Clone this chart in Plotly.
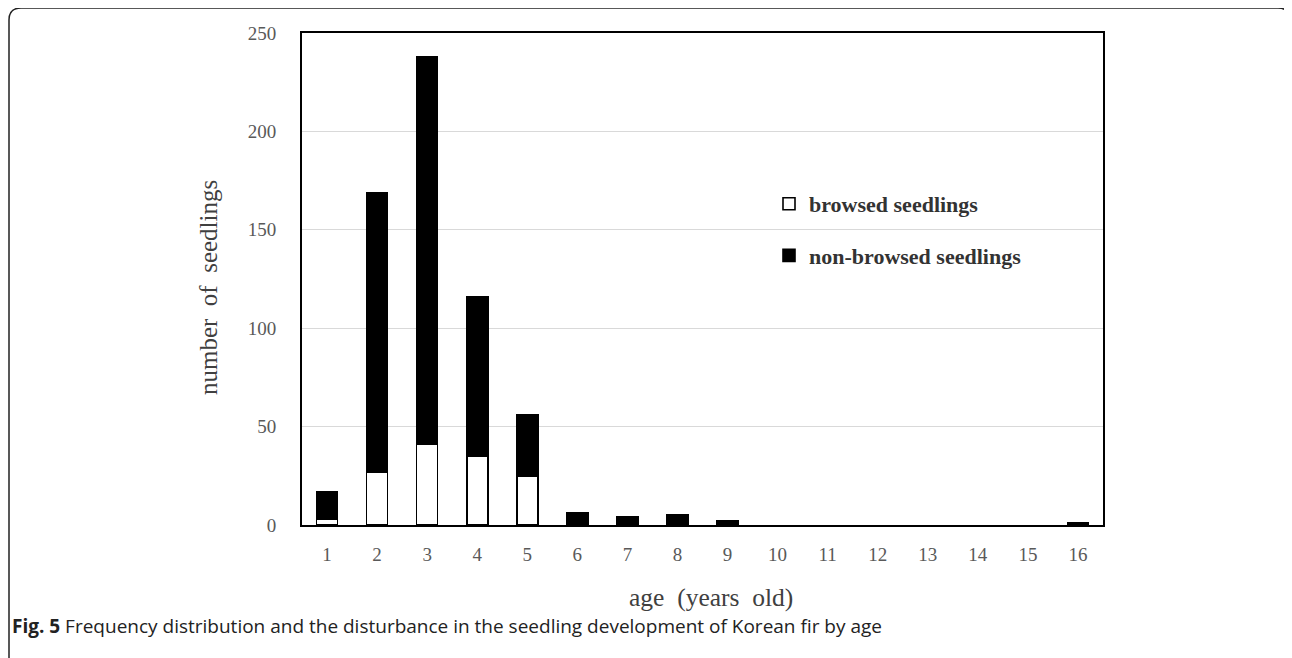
import plotly.graph_objects as go

ages = [str(a) for a in range(1, 17)]
browsed = [3, 27, 41, 35, 25, 0, 0, 0, 0, 0, 0, 0, 0, 0, 0, 0]
non_browsed = [14, 142, 197, 81, 31, 6, 4, 5, 2, 0, 0, 0, 0, 0, 0, 1]
y_ticks = [0, 50, 100, 150, 200, 250]

serif = "Liberation Serif, Times New Roman, serif"
grey = "#595959"

# plot area in figure pixels (the page adds an 8px body margin)
L, T, W, H = 294, 25, 801, 492
OFF = 8


def px(x):
    return (x - OFF - L) / W


def py(y):
    return (T + H - (y - OFF)) / H


def hide_zero(vals):
    return [v if v else None for v in vals]


fig = go.Figure()
fig.add_trace(go.Bar(
    x=ages, y=hide_zero(browsed), name="browsed seedlings", legendgroup="a",
    marker=dict(color="white", line=dict(color="black", width=1.6)),
    width=0.42
))
fig.add_trace(go.Bar(
    x=ages, y=hide_zero(non_browsed), name="non-browsed seedlings", legendgroup="b",
    marker=dict(color="black", line=dict(color="black", width=1.6)),
    width=0.42
))

frame = "M {x0} {yb} L {x0} {y1} Q {x0} {yt} {x2} {yt} L {x3} {yt} Q {xr} {yt} {xr} {y1} L {xr} {yb}".format(
    x0=px(9), x2=px(21), x3=px(1278), xr=px(1290),
    yt=py(8), y1=py(20), yb=py(672)
)

fig.update_layout(
    barmode="stack",
    width=1292, height=658,
    margin=dict(l=L, r=1292 - L - W, t=T, b=658 - T - H),
    paper_bgcolor="white", plot_bgcolor="white",
    font=dict(family=serif, color=grey),
    legend=dict(
        x=px(769), y=py(183), xanchor="left", yanchor="top",
        bgcolor="rgba(0,0,0,0)", traceorder="grouped",
        tracegroupgap=20, itemwidth=30,
        font=dict(family=serif, size=22, color="#333333", weight="bold")
    ),
    xaxis=dict(
        tickfont=dict(size=19, color=grey), ticks="",
        showline=True, linecolor="black", linewidth=2, mirror=True,
        ticklabelstandoff=11
    ),
    yaxis=dict(
        range=[0, 250], tickvals=y_ticks, tickfont=dict(size=19, color=grey), ticks="",
        showgrid=True, gridcolor="#d9d9d9", gridwidth=1.3, zeroline=False,
        showline=True, linecolor="black", linewidth=2, mirror=True,
        ticklabelstandoff=20
    ),
    shapes=[dict(
        type="path", xref="paper", yref="paper", path=frame,
        line=dict(color="#222222", width=1.5)
    )],
    annotations=[
        dict(text="number  of  seedlings", textangle=-90,
             xref="paper", yref="paper", x=px(208), y=py(288),
             xanchor="center", yanchor="middle", showarrow=False,
             font=dict(family=serif, size=25, color="#404040")),
        dict(text="age  (years  old)",
             xref="paper", yref="paper", x=px(711), y=py(597),
             xanchor="center", yanchor="middle", showarrow=False,
             font=dict(family=serif, size=25.5, color="#404040")),
        dict(text="<b>Fig. 5</b> Frequency distribution and the disturbance in the seedling development of Korean fir by age",
             xref="paper", yref="paper", x=px(10), y=py(626),
             xanchor="left", yanchor="middle", showarrow=False,
             font=dict(family="Open Sans, sans-serif", size=19, color="#222222")),
    ]
)

fig.write_html("out.html")
